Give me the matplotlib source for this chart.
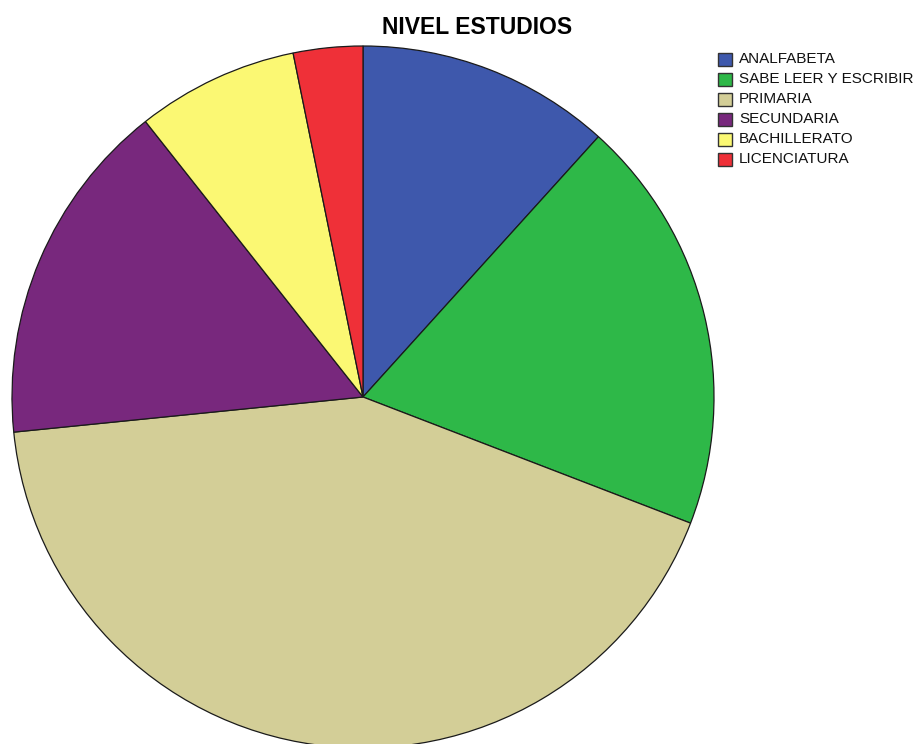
import matplotlib
matplotlib.use("Agg")
import matplotlib.pyplot as plt
from matplotlib.patches import Rectangle

categories = ["ANALFABETA", "SABE LEER Y ESCRIBIR", "PRIMARIA",
              "SECUNDARIA", "BACHILLERATO", "LICENCIATURA"]
counts = [11, 18, 40, 15, 7, 3]
colors = ["#3E58AC", "#2EB848", "#D3CE97", "#78287D", "#FBF873", "#EF3038"]
title = "NIVEL ESTUDIOS"

W, H = 916, 744
fig = plt.figure(figsize=(W / 100, H / 100), dpi=100)
ax = fig.add_axes([0, 0, 1, 1])

# Pie in pixel coordinates (y axis inverted, so counterclock=True runs clockwise on screen)
ax.pie(counts, colors=colors, startangle=-90, counterclock=True,
       center=(363, 397), radius=351, frame=True,
       wedgeprops=dict(edgecolor="#1a1a1a", linewidth=0.9))
ax.set_xlim(0, W)
ax.set_ylim(H, 0)
ax.set_aspect("equal")
ax.axis("off")

ax.text(477, 27, title, ha="center", va="center", fontsize=16.5,
        fontweight="bold", family="Liberation Sans")

# Legend entries
for i, (cat, col) in enumerate(zip(categories, colors)):
    yc = 59 + 20 * i
    ax.add_patch(Rectangle((718, yc - 6.5), 14, 13, facecolor=col,
                           edgecolor="#333333", linewidth=1.0))
    ax.text(739, yc, cat, ha="left", va="center", fontsize=11,
            family="Liberation Sans", color="#111111")

fig.savefig("out.png", dpi=100)
